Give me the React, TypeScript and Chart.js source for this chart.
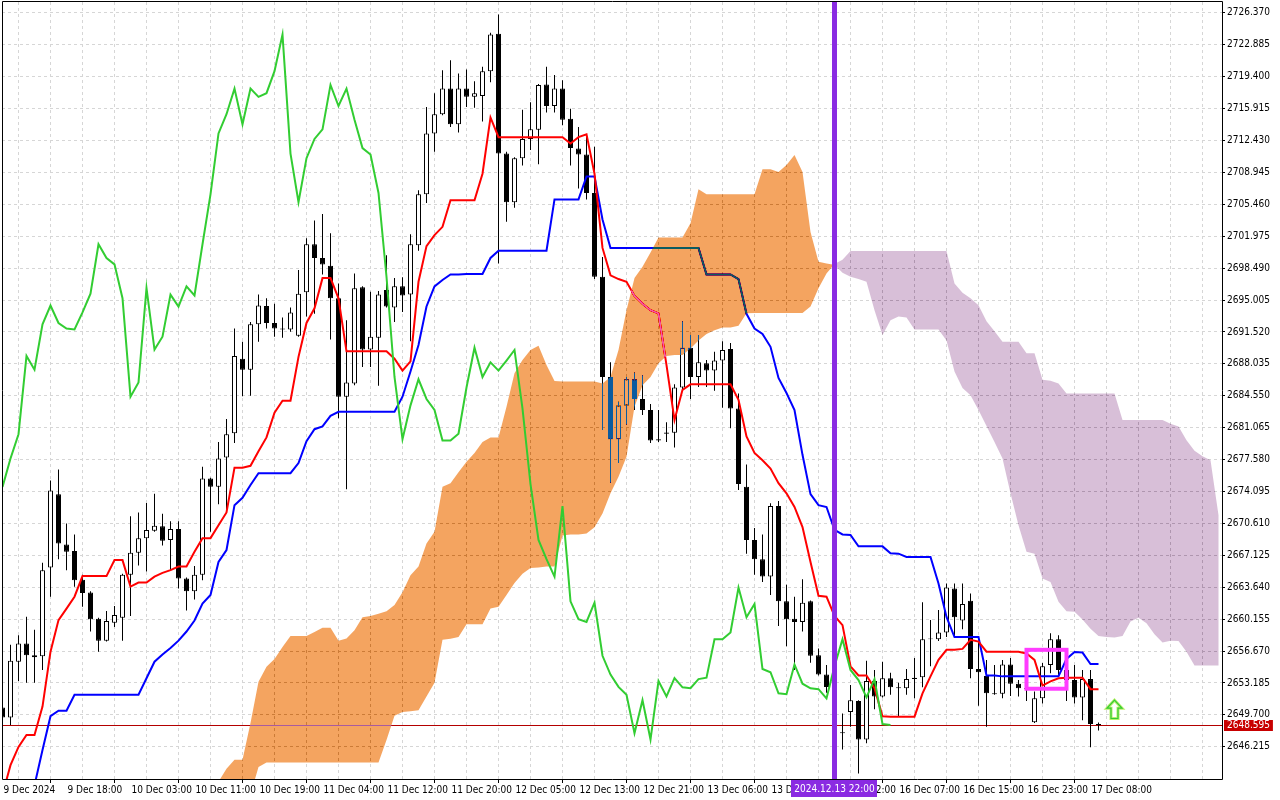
import React, { useEffect, useRef } from 'react';
import { Chart, registerables } from 'chart.js';

Chart.register(...registerables);

// ---------- time axis (one label every 8 hourly bars, starting at bar 0) ----------
const timeLabels = [
  '9 Dec 2024', '9 Dec 18:00', '10 Dec 03:00', '10 Dec 11:00', '10 Dec 19:00', '11 Dec 04:00',
  '11 Dec 12:00', '11 Dec 20:00', '12 Dec 05:00', '12 Dec 13:00', '12 Dec 21:00', '13 Dec 06:00',
  '13 Dec 14:00', '13 Dec 22:00', '16 Dec 07:00', '16 Dec 15:00', '16 Dec 23:00', '17 Dec 08:00',
];
const labelEveryBars = 8;
const gridEveryBars = 4;

// ---------- price axis ticks ----------
const yTicks = [
  2646.215, 2649.7, 2653.185, 2656.67, 2660.155, 2663.64, 2667.125, 2670.61, 2674.095, 2677.58,
  2681.065, 2684.55, 2688.035, 2691.52, 2695.005, 2698.49, 2701.975, 2705.46, 2708.945, 2712.43,
  2715.915, 2719.4, 2722.885, 2726.37,
];

// ---------- OHLC (XAUUSD H1, bars 0..137) ----------
const opens = [
  2650.5, 2649.4, 2655.5, 2657.5, 2656.2, 2656.1, 2665.8, 2673.8, 2668.3, 2667.6,
  2664.45, 2663.05, 2660.2, 2657.8, 2659.75, 2660.3, 2665.0, 2667.4, 2669.0, 2669.8,
  2670.3, 2668.8, 2670.0, 2664.6, 2663.2, 2665.0, 2675.5, 2674.6, 2677.8, 2680.45,
  2688.6, 2687.4, 2692.35, 2694.35, 2692.5, 2691.9, 2691.8, 2691.1, 2695.85, 2701.1,
  2699.6, 2698.75, 2695.2, 2684.45, 2685.9, 2696.4, 2689.6, 2690.9, 2696.1, 2694.2,
  2696.5, 2695.6, 2701.0, 2706.55, 2713.2, 2715.3, 2718.1, 2714.2, 2718.1, 2717.2,
  2717.3, 2720.0, 2724.1, 2711.0, 2705.7, 2710.5, 2712.6, 2713.6, 2718.55, 2716.2,
  2718.1, 2714.8, 2711.55, 2710.9, 2706.7, 2697.55, 2686.6, 2679.8, 2683.5, 2686.35,
  2684.2, 2683.0, 2679.8, 2680.55, 2680.5, 2685.45, 2689.8, 2686.6, 2688.1, 2687.3,
  2688.4, 2689.65, 2683.15, 2674.6, 2668.8, 2666.7, 2664.8, 2672.5, 2662.1, 2660.2,
  2659.85, 2662.1, 2656.2, 2654.1, 2652.8, 2647.8, 2650.0, 2651.2, 2647.0, 2653.4,
  2651.7, 2653.7, 2652.7, 2652.6, 2653.6, 2653.8, 2658.05, 2657.95, 2658.7, 2663.5,
  2660.0, 2662.15, 2654.7, 2653.95, 2652.05, 2652.0, 2655.2, 2653.1, 2652.6, 2648.9,
  2651.5, 2655.15, 2657.95, 2654.6, 2653.5, 2651.6, 2653.6, 2648.7,
];
const highs = [
  2651.5, 2657.35, 2658.4, 2660.4, 2659.0, 2666.3, 2675.3, 2676.5, 2670.6, 2669.4,
  2665.0, 2663.2, 2660.3, 2661.05, 2661.6, 2665.1, 2671.4, 2671.8, 2672.85, 2673.85,
  2671.65, 2670.85, 2670.85, 2664.7, 2665.95, 2676.8, 2675.6, 2679.5, 2682.0, 2691.9,
  2690.45, 2692.6, 2695.6, 2695.2, 2694.6, 2693.1, 2694.2, 2698.3, 2701.75, 2703.7,
  2704.4, 2702.3, 2696.8, 2692.8, 2697.9, 2696.5, 2695.9, 2696.0, 2699.9, 2697.4,
  2697.5, 2702.2, 2707.0, 2716.1, 2717.6, 2720.1, 2721.2, 2719.75, 2720.2, 2718.9,
  2720.5, 2724.2, 2726.2, 2711.2, 2710.6, 2715.8, 2716.6, 2718.6, 2720.5, 2719.6,
  2719.0, 2715.9, 2713.9, 2713.1, 2711.75, 2699.7, 2688.2, 2683.9, 2686.6, 2687.1,
  2686.8, 2683.65, 2683.0, 2681.65, 2685.8, 2692.7, 2691.2, 2691.2, 2688.45, 2689.35,
  2690.5, 2690.3, 2684.8, 2677.05, 2670.1, 2669.4, 2672.8, 2673.05, 2663.9, 2662.6,
  2664.5, 2662.2, 2656.95, 2655.15, 2654.0, 2649.85, 2652.95, 2651.3, 2655.6, 2654.6,
  2655.5, 2654.3, 2653.2, 2654.7, 2655.9, 2662.0, 2660.05, 2661.15, 2664.05, 2664.05,
  2664.05, 2662.95, 2657.8, 2655.7, 2655.15, 2655.7, 2655.9, 2653.5, 2653.3, 2652.25,
  2655.35, 2658.6, 2658.4, 2655.0, 2655.15, 2654.6, 2654.6, 2648.85,
];
const lows = [
  2648.5, 2648.6, 2653.4, 2653.2, 2653.2, 2654.6, 2662.6, 2666.7, 2665.5, 2663.7,
  2661.5, 2658.8, 2656.6, 2657.7, 2659.3, 2657.8, 2660.5, 2666.0, 2665.35, 2669.7,
  2668.2, 2665.5, 2663.5, 2661.1, 2662.3, 2664.4, 2669.7, 2672.7, 2672.1, 2679.4,
  2684.5, 2684.55, 2690.45, 2691.9, 2691.0, 2690.9, 2691.55, 2691.0, 2693.2, 2693.5,
  2697.8, 2690.7, 2682.1, 2674.35, 2685.7, 2687.7, 2687.7, 2685.65, 2694.2, 2692.6,
  2693.7, 2690.5, 2700.4, 2705.6, 2711.2, 2715.2, 2713.9, 2713.3, 2716.1, 2716.0,
  2714.5, 2718.8, 2699.0, 2703.55, 2705.1, 2709.7, 2711.4, 2709.85, 2715.5, 2715.5,
  2714.1, 2709.7, 2707.2, 2706.0, 2697.3, 2680.8, 2675.05, 2677.2, 2681.4, 2683.0,
  2682.45, 2679.4, 2679.5, 2679.5, 2678.9, 2685.15, 2684.2, 2685.5, 2685.5, 2685.1,
  2683.25, 2681.0, 2674.25, 2667.3, 2665.0, 2664.2, 2662.8, 2659.4, 2657.2, 2654.6,
  2658.8, 2655.4, 2654.0, 2652.1, 2650.9, 2645.9, 2648.4, 2643.3, 2646.6, 2650.3,
  2651.6, 2651.9, 2649.5, 2651.9, 2651.5, 2652.7, 2655.0, 2657.75, 2658.2, 2658.2,
  2659.05, 2653.7, 2650.7, 2648.4, 2651.9, 2651.5, 2651.75, 2651.7, 2651.2, 2648.8,
  2650.95, 2654.25, 2653.9, 2651.2, 2650.95, 2649.1, 2646.15, 2648.0,
];
const closes = [
  2649.4, 2655.6, 2657.5, 2656.2, 2656.0, 2665.5, 2674.2, 2668.4, 2667.5, 2664.4,
  2663.0, 2660.15, 2657.8, 2659.95, 2660.6, 2665.0, 2667.4, 2669.0, 2669.9, 2670.35,
  2668.7, 2670.0, 2664.6, 2663.2, 2665.0, 2675.5, 2674.6, 2677.7, 2680.35, 2688.9,
  2687.4, 2692.35, 2694.4, 2692.5, 2691.9, 2691.8, 2693.65, 2695.7, 2701.1, 2699.6,
  2698.9, 2695.2, 2684.45, 2686.0, 2696.3, 2689.6, 2691.0, 2695.6, 2694.3, 2696.5,
  2695.5, 2701.1, 2706.55, 2713.2, 2715.3, 2718.1, 2714.2, 2718.1, 2717.2, 2717.6,
  2720.0, 2724.0, 2711.0, 2705.7, 2710.5, 2712.6, 2713.65, 2718.5, 2716.2, 2718.1,
  2714.7, 2711.6, 2710.9, 2706.7, 2697.55, 2686.6, 2679.8, 2683.5, 2686.35, 2684.2,
  2683.0, 2679.65, 2679.65, 2680.4, 2685.45, 2689.8, 2686.6, 2688.2, 2687.3, 2688.4,
  2689.55, 2683.15, 2674.9, 2668.8, 2666.7, 2664.8, 2672.5, 2662.1, 2660.15, 2659.85,
  2661.95, 2656.15, 2654.1, 2652.75, 2651.9, 2647.7, 2651.3, 2647.0, 2653.4, 2651.7,
  2653.7, 2652.7, 2652.6, 2653.6, 2653.75, 2657.95, 2657.95, 2658.7, 2663.6, 2660.35,
  2661.8, 2654.7, 2654.35, 2652.05, 2651.95, 2655.2, 2653.1, 2652.6, 2652.5, 2651.5,
  2655.0, 2657.95, 2654.6, 2653.5, 2651.6, 2653.6, 2648.7, 2648.595,
];

// ---------- Ichimoku lines ----------
const tenkan = [
  2641.0, 2644.2, 2646.2, 2647.5, 2647.5, 2650.6, 2656.6, 2660.05, 2661.3, 2662.6,
  2664.85, 2664.85, 2664.85, 2664.85, 2666.6, 2666.6, 2663.7, 2664.15, 2664.15, 2664.8,
  2665.2, 2665.5, 2665.9, 2665.9, 2667.5, 2669.0, 2669.0, 2670.4, 2671.8, 2676.7,
  2676.7, 2676.9, 2678.5, 2680.0, 2682.7, 2684.0, 2684.0, 2688.8, 2692.5, 2694.1,
  2697.4, 2697.4, 2695.2, 2689.4, 2689.4, 2689.4, 2689.4, 2689.4, 2689.4, 2688.6,
  2687.3, 2688.3, 2697.0, 2700.9, 2702.1, 2703.0, 2705.9, 2705.9, 2705.9, 2705.9,
  2708.8, 2714.95, 2712.8, 2712.8, 2712.8, 2712.8, 2712.8, 2712.8, 2712.8, 2712.8,
  2712.8, 2712.1, 2712.8, 2713.1, 2708.8, 2700.7, 2697.7, 2697.3, 2697.0, 2695.45,
  2694.6, 2693.9, 2693.55, 2687.9, 2681.9, 2685.2, 2685.8, 2685.8, 2685.8, 2685.8,
  2685.8, 2685.8, 2684.1, 2680.1, 2678.3, 2677.5, 2676.6, 2675.0, 2673.9, 2672.4,
  2670.2, 2666.4, 2662.7, 2662.6, 2660.5, 2659.5, 2655.0, 2654.0, 2654.0, 2652.6,
  2649.55, 2649.5, 2649.5, 2649.5, 2649.5, 2652.05, 2653.9, 2655.7, 2656.8, 2656.8,
  2656.9, 2657.9, 2657.7, 2656.6, 2656.6, 2656.6, 2656.6, 2656.6, 2656.4, 2655.7,
  2652.9, 2653.35, 2653.7, 2653.75, 2653.75, 2653.75, 2652.5, 2652.5,
];
const kijun = [
  2638.0, 2638.0, 2638.0, 2639.5, 2642.0, 2645.85, 2649.55, 2650.15, 2650.15, 2651.9,
  2651.9, 2651.9, 2651.9, 2651.9, 2651.9, 2651.9, 2651.9, 2651.9, 2653.7, 2655.5,
  2656.3, 2657.0, 2657.8, 2658.8, 2660.0, 2661.85, 2662.8, 2666.4, 2667.7, 2672.6,
  2673.4, 2674.8, 2676.1, 2676.1, 2676.1, 2676.1, 2676.1, 2677.2, 2679.6, 2680.9,
  2681.2, 2682.35, 2682.8, 2682.8, 2682.8, 2682.8, 2682.8, 2682.8, 2682.8, 2682.8,
  2684.45, 2687.2, 2690.1, 2694.3, 2696.5, 2697.2, 2697.8, 2697.8, 2697.85, 2697.85,
  2697.85, 2699.6, 2700.4, 2700.4, 2700.4, 2700.4, 2700.4, 2700.4, 2700.4, 2706.0,
  2706.0, 2706.0, 2706.0, 2708.5, 2708.5, 2703.8, 2700.7, 2700.7, 2700.7, 2700.7,
  2700.7, 2700.7, 2700.7, 2700.7, 2700.7, 2700.7, 2700.7, 2700.7, 2697.8, 2697.8,
  2697.8, 2697.8, 2697.3, 2693.5, 2691.9, 2691.3, 2689.9, 2686.5, 2684.85, 2683.0,
  2678.1, 2673.8, 2672.6, 2672.4, 2669.9, 2669.4, 2669.35, 2668.1, 2668.1, 2668.1,
  2668.1, 2667.35, 2667.3, 2666.95, 2666.95, 2666.95, 2666.95, 2664.05, 2660.4, 2658.2,
  2658.2, 2658.2, 2658.2, 2654.0, 2654.0, 2653.9, 2653.9, 2653.9, 2653.9, 2653.9,
  2653.9, 2653.9, 2653.9, 2655.8, 2656.55, 2656.5, 2655.25, 2655.25,
];
const chikouShift = 26; // Chikou Span = close plotted 26 bars back

// Senkou spans, plotted from bar 26 to bar 152 (26 bars past the last candle)
const cloudStartBar = 26;
const senkouA = [
  2640.5, 2642.4, 2643.8, 2644.8, 2644.8, 2648.8, 2653.3, 2654.95, 2655.8, 2657.1,
  2658.3, 2658.3, 2658.3, 2658.75, 2659.2, 2659.2, 2657.8, 2658.05, 2658.95, 2660.35,
  2660.5, 2660.75, 2661.0, 2661.7, 2663.1, 2664.95, 2665.9, 2668.4, 2669.7, 2674.6,
  2675.0, 2676.2, 2677.35, 2678.3, 2679.5, 2680.0, 2680.0, 2683.35, 2687.0, 2688.45,
  2689.55, 2690.0, 2687.9, 2686.15, 2686.1, 2686.1, 2686.1, 2686.1, 2686.1, 2685.9,
  2686.6, 2689.55, 2693.9, 2697.4, 2698.65, 2700.2, 2701.85, 2701.85, 2701.85, 2701.85,
  2703.4, 2707.1, 2706.55, 2706.55, 2706.55, 2706.55, 2706.55, 2706.55, 2706.55, 2709.3,
  2709.3, 2709.0, 2709.75, 2710.85, 2709.0, 2702.45, 2699.2, 2699.0, 2698.85, 2698.0,
  2697.55, 2697.3, 2697.0, 2693.9, 2691.2, 2692.8, 2693.2, 2693.1, 2691.8, 2691.8,
  2691.8, 2691.8, 2690.6, 2687.2, 2685.4, 2684.6, 2683.0, 2681.25, 2679.5, 2677.7,
  2673.9, 2670.4, 2667.5, 2667.3, 2664.6, 2664.2, 2662.05, 2661.0, 2660.95, 2660.1,
  2659.1, 2658.3, 2658.2, 2658.15, 2658.3, 2659.9, 2660.3, 2659.7, 2658.5, 2657.6,
  2657.8, 2657.75, 2656.6, 2655.1, 2655.1, 2655.1, 2655.1,
];
const senkouB = [
  2638.0, 2638.0, 2638.0, 2638.0, 2638.0, 2641.0, 2644.0, 2644.5, 2644.5, 2644.5,
  2644.5, 2644.5, 2644.5, 2644.5, 2644.5, 2644.5, 2644.5, 2644.5, 2644.5, 2644.5,
  2644.5, 2644.5, 2646.95, 2649.6, 2650.0, 2650.1, 2650.2, 2651.7, 2653.2, 2657.9,
  2658.0, 2658.2, 2659.6, 2659.6, 2659.6, 2661.3, 2661.5, 2662.8, 2664.1, 2665.1,
  2665.75, 2665.8, 2665.9, 2665.9, 2669.3, 2669.4, 2669.4, 2669.5, 2670.2, 2671.7,
  2673.9, 2675.7, 2677.9, 2683.35, 2685.7, 2686.6, 2688.1, 2688.9, 2689.0, 2689.0,
  2689.7, 2690.6, 2691.3, 2691.7, 2692.0, 2692.0, 2692.2, 2693.55, 2693.6, 2693.6,
  2693.6, 2693.6, 2693.6, 2693.6, 2693.6, 2694.3, 2696.3, 2697.9, 2698.95, 2699.4,
  2700.35, 2700.35, 2700.35, 2700.35, 2700.35, 2700.35, 2700.35, 2700.35, 2700.35, 2700.35,
  2700.35, 2700.35, 2700.35, 2696.8, 2695.8, 2695.2, 2694.45, 2692.7, 2691.6, 2690.45,
  2690.45, 2690.45, 2689.2, 2689.2, 2686.3, 2686.2, 2685.9, 2684.8, 2684.8, 2684.8,
  2684.8, 2684.8, 2684.8, 2684.8, 2681.9, 2681.9, 2681.9, 2681.9, 2681.9, 2681.9,
  2681.5, 2681.2, 2679.7, 2678.55, 2677.95, 2677.5, 2671.5,
];

// ---------- annotations ----------
const currentPrice = 2648.595;
const markerBar = 104;
const markerLabel = '2024.12.13 22:00';
const boxBars = [128, 133];
const boxPrices = [2652.55, 2656.8];
const arrowBar = 139;
const arrowPrices = [2649.3, 2651.3];

// ---------- view window ----------
const xMin = -0.0625;
const xMax = 152.4375;
const yMin = 2642.69;
const yMax = 2727.56;

const FONT = "'DejaVu Sans Condensed', 'Liberation Sans', Arial, sans-serif";
const GRID = '#d6d6d6';
const CHIKOU_INDEX = 6;
const LINE_W = 2;

function drawCloud(chart: any) {
  const ctx = chart.ctx;
  const area = chart.chartArea;
  const pa = chart.getDatasetMeta(0).data;
  const pb = chart.getDatasetMeta(1).data;
  const up = new Path2D();
  const dn = new Path2D();
  const poly = (p: Path2D, pts: number[][]) => {
    p.moveTo(pts[0][0], pts[0][1]);
    for (let k = 1; k < pts.length; k++) p.lineTo(pts[k][0], pts[k][1]);
    p.closePath();
  };
  for (let i = 0; i < senkouA.length - 1; i++) {
    const a0 = pa[i], a1 = pa[i + 1], b0 = pb[i], b1 = pb[i + 1];
    const d0 = senkouA[i] - senkouB[i];
    const d1 = senkouA[i + 1] - senkouB[i + 1];
    if (d0 >= 0 && d1 >= 0) {
      poly(up, [[a0.x, a0.y], [a1.x, a1.y], [b1.x, b1.y], [b0.x, b0.y]]);
    } else if (d0 <= 0 && d1 <= 0) {
      poly(dn, [[a0.x, a0.y], [a1.x, a1.y], [b1.x, b1.y], [b0.x, b0.y]]);
    } else {
      const t = d0 / (d0 - d1);
      const cx = a0.x + t * (a1.x - a0.x);
      const cy = a0.y + t * (a1.y - a0.y);
      poly(d0 > 0 ? up : dn, [[a0.x, a0.y], [cx, cy], [b0.x, b0.y]]);
      poly(d1 > 0 ? up : dn, [[cx, cy], [a1.x, a1.y], [b1.x, b1.y]]);
    }
  }
  ctx.save();
  ctx.beginPath();
  ctx.rect(area.left, area.top, area.right - area.left, area.bottom - area.top);
  ctx.clip();
  // MT4 paints the cloud in NOT-XOR mode: emulate with "difference" of the inverted colour
  ctx.globalCompositeOperation = 'difference';
  ctx.fillStyle = 'rgb(11,91,159)'; // inverse of sandybrown
  ctx.fill(up);
  ctx.fillStyle = 'rgb(39,64,39)'; // inverse of thistle
  ctx.fill(dn);
  ctx.restore();
}

const overlayPlugin = {
  id: 'mt4overlay',
  beforeDraw(chart: any) {
    const ctx = chart.ctx;
    ctx.save();
    ctx.fillStyle = '#ffffff';
    ctx.fillRect(0, 0, chart.width, chart.height);
    ctx.restore();
  },
  beforeDatasetsDraw(chart: any) {
    const ctx = chart.ctx;
    const area = chart.chartArea;
    const y = Math.round(chart.scales.y.getPixelForValue(currentPrice)) + 0.5;
    ctx.save();
    ctx.strokeStyle = '#b40000';
    ctx.lineWidth = 1;
    ctx.beginPath();
    ctx.moveTo(area.left, y);
    ctx.lineTo(area.right, y);
    ctx.stroke();
    ctx.restore();
  },
  beforeDatasetDraw(chart: any, args: any) {
    if (args.index === CHIKOU_INDEX) drawCloud(chart);
  },
  afterDatasetsDraw(chart: any) {
    const ctx = chart.ctx;
    const area = chart.chartArea;
    const xs = chart.scales.x;
    const ys = chart.scales.y;
    ctx.save();
    ctx.beginPath();
    ctx.rect(area.left, area.top, area.right - area.left, area.bottom - area.top);
    ctx.clip();
    // magenta rectangle
    const bx0 = xs.getPixelForValue(boxBars[0]);
    const bx1 = xs.getPixelForValue(boxBars[1]);
    const by0 = ys.getPixelForValue(boxPrices[1]);
    const by1 = ys.getPixelForValue(boxPrices[0]);
    ctx.strokeStyle = '#ff3cff';
    ctx.lineWidth = 4;
    ctx.strokeRect(bx0, by0, bx1 - bx0, by1 - by0);
    // green up arrow
    const ax = xs.getPixelForValue(arrowBar);
    const ayTop = ys.getPixelForValue(arrowPrices[1]);
    const ayBot = ys.getPixelForValue(arrowPrices[0]);
    const hw = 7.5, sw = 3.5, hh = 8;
    ctx.beginPath();
    ctx.moveTo(ax, ayTop);
    ctx.lineTo(ax + hw, ayTop + hh);
    ctx.lineTo(ax + sw, ayTop + hh);
    ctx.lineTo(ax + sw, ayBot);
    ctx.lineTo(ax - sw, ayBot);
    ctx.lineTo(ax - sw, ayTop + hh);
    ctx.lineTo(ax - hw, ayTop + hh);
    ctx.closePath();
    ctx.fillStyle = '#ffffff';
    ctx.fill();
    ctx.strokeStyle = '#b8ef6a';
    ctx.lineWidth = 3;
    ctx.stroke();
    ctx.strokeStyle = '#33cc33';
    ctx.lineWidth = 1.2;
    ctx.stroke();
    // purple vertical marker
    const mx = xs.getPixelForValue(markerBar);
    ctx.fillStyle = '#8a2be2';
    ctx.fillRect(mx - 2.5, area.top, 5, area.bottom - area.top);
    ctx.restore();
  },
  afterDraw(chart: any) {
    const ctx = chart.ctx;
    const area = chart.chartArea;
    const xs = chart.scales.x;
    const ys = chart.scales.y;
    ctx.save();
    // frame
    ctx.strokeStyle = '#000000';
    ctx.lineWidth = 1;
    ctx.beginPath();
    ctx.moveTo(area.left + 0.5, area.top - 0.5);
    ctx.lineTo(area.right + 0.5, area.top - 0.5);
    ctx.lineTo(area.right + 0.5, area.bottom + 0.5);
    ctx.lineTo(area.left + 0.5, area.bottom + 0.5);
    ctx.closePath();
    ctx.stroke();
    ctx.font = `10px ${FONT}`;
    ctx.textBaseline = 'middle';
    // current price label
    const py = Math.round(ys.getPixelForValue(currentPrice));
    const ptxt = currentPrice.toFixed(3);
    const pw = ctx.measureText(ptxt).width;
    ctx.fillStyle = '#c80000';
    ctx.fillRect(area.right + 2, py - 5, pw + 6, 11);
    ctx.fillStyle = '#ffffff';
    ctx.textAlign = 'left';
    ctx.fillText(ptxt, area.right + 5, py + 0.5);
    // time marker label
    const mx = xs.getPixelForValue(markerBar);
    const mw = ctx.measureText(markerLabel).width + 6;
    ctx.fillStyle = '#8a2be2';
    ctx.fillRect(Math.round(mx - mw / 2), area.bottom + 1, Math.round(mw), 17);
    ctx.fillStyle = '#ffffff';
    ctx.textAlign = 'center';
    ctx.fillText(markerLabel, mx, area.bottom + 10);
    ctx.restore();
  },
};

export default function App() {
  const ref = useRef<HTMLCanvasElement>(null);

  useEffect(() => {
    document.body.style.margin = '0';
    const canvas = ref.current;
    if (!canvas) return;

    const pts = (arr: number[], start: number) => arr.map((v, i) => ({ x: i + start, y: v }));

    const datasets: any[] = [
      {
        type: 'line', label: 'Senkou Span A', data: pts(senkouA, cloudStartBar),
        borderColor: 'rgba(0,0,0,0)', borderWidth: 0, pointRadius: 0, order: 20,
      },
      {
        type: 'line', label: 'Senkou Span B', data: pts(senkouB, cloudStartBar),
        borderColor: 'rgba(0,0,0,0)', borderWidth: 0, pointRadius: 0, order: 20,
      },
      {
        type: 'bar', label: 'Wicks', data: opens.map((_, i) => ({ x: i, y: [lows[i], highs[i]] })),
        backgroundColor: '#000000', borderWidth: 0, barThickness: 1, grouped: false,
        inflateAmount: 0, order: 10,
      },
      {
        type: 'bar', label: 'Bodies', data: opens.map((o, i) => ({ x: i, y: [o, closes[i]] })),
        backgroundColor: opens.map((o, i) => (closes[i] >= o ? '#ffffff' : '#000000')),
        borderColor: '#000000', borderWidth: 1, borderSkipped: false, barThickness: 5,
        grouped: false, inflateAmount: 0, order: 9,
      },
      {
        type: 'line', label: 'Kijun-sen', data: pts(kijun, 0), borderColor: '#0000ff',
        borderWidth: LINE_W, pointRadius: 0, tension: 0, order: 8,
      },
      {
        type: 'line', label: 'Tenkan-sen', data: pts(tenkan, 0), borderColor: '#ff0000',
        borderWidth: LINE_W, pointRadius: 0, tension: 0, order: 7,
      },
      {
        type: 'line', label: 'Chikou Span', data: pts(closes.slice(chikouShift), 0),
        borderColor: '#32cd32', borderWidth: LINE_W, pointRadius: 0, tension: 0, order: 1,
      },
    ];

    const tickFont = { family: FONT, size: 10 };

    const chart = new Chart(canvas, {
      type: 'bar',
      data: { datasets },
      plugins: [overlayPlugin as any],
      options: {
        responsive: false,
        maintainAspectRatio: false,
        devicePixelRatio: 1,
        animation: false,
        events: [],
        layout: { padding: { left: 2, top: 2, right: 0, bottom: 0 } },
        plugins: { legend: { display: false }, tooltip: { enabled: false } },
        scales: {
          x: {
            type: 'linear',
            min: xMin,
            max: xMax,
            offset: false,
            grid: {
              color: GRID,
              lineWidth: 1,
              drawTicks: true,
              tickLength: 4,
              tickWidth: 1,
              tickColor: (c: any) => {
                const v = c.tick ? c.tick.value : -1;
                return v % labelEveryBars === 0 && v / labelEveryBars < timeLabels.length ? '#000000' : 'rgba(0,0,0,0)';
              },
            },
            border: { display: false, dash: [3, 3] },
            ticks: {
              autoSkip: false,
              maxRotation: 0,
              minRotation: 0,
              align: 'start',
              padding: 1,
              labelOffset: 1,
              color: '#000000',
              font: tickFont,
              callback: (v: any) => {
                const n = Number(v);
                if (n % labelEveryBars !== 0) return '';
                return timeLabels[n / labelEveryBars] ?? '';
              },
            },
            afterBuildTicks: (s: any) => {
              const t: any[] = [];
              for (let v = 0; v <= xMax; v += gridEveryBars) t.push({ value: v });
              s.ticks = t;
            },
            afterFit: (s: any) => {
              s.height = 21;
              s.paddingLeft = 0;
              s.paddingRight = 0;
            },
          } as any,
          y: {
            type: 'linear',
            position: 'right',
            min: yMin,
            max: yMax,
            grid: { color: GRID, lineWidth: 1, drawTicks: true, tickLength: 3, tickWidth: 1, tickColor: '#000000' },
            border: { display: false, dash: [3, 3] },
            ticks: {
              autoSkip: false,
              padding: 2,
              color: '#000000',
              font: tickFont,
              callback: (v: any) => Number(v).toFixed(3),
            },
            afterBuildTicks: (s: any) => {
              s.ticks = yTicks.map((v) => ({ value: v }));
            },
            afterFit: (s: any) => {
              s.width = 58;
              s.paddingTop = 0;
              s.paddingBottom = 0;
            },
          } as any,
        },
      } as any,
    });

    return () => chart.destroy();
  }, []);

  return (
    <div style={{ width: 1280, height: 800, background: '#ffffff' }}>
      <canvas ref={ref} width={1280} height={800} style={{ display: 'block', width: 1280, height: 800 }} />
    </div>
  );
}
